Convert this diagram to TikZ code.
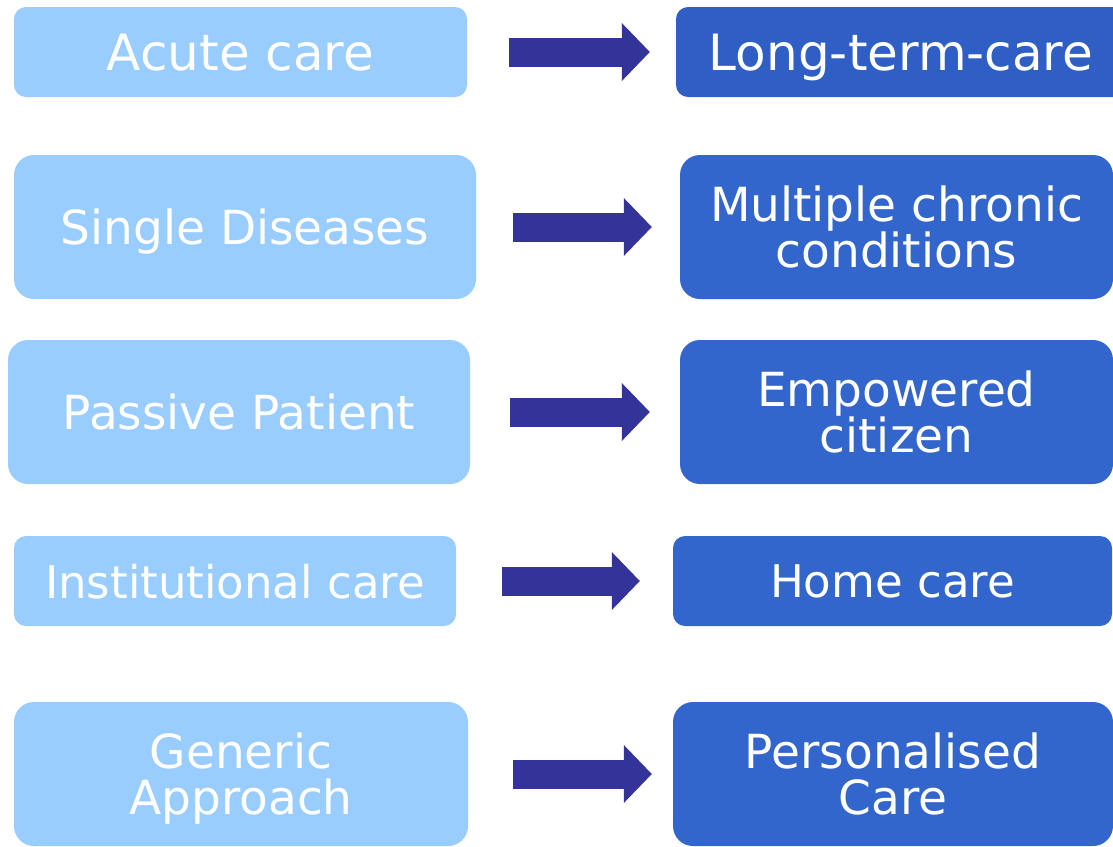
\documentclass[tikz,border=0pt]{standalone}
\usepackage{fontspec}
\setmainfont{DejaVu Sans}
\usetikzlibrary{arrows.meta}

\definecolor{paleblue}{HTML}{99CCFF}
\definecolor{deepblue}{HTML}{3366CC}
\definecolor{darkdeepblue}{HTML}{2F5FC4}
\definecolor{shiftblue}{HTML}{333399}

\begin{document}
\begin{tikzpicture}[x=1pt, y=-1pt,
		oldbox/.style = {fill=paleblue, text=white, align=center, inner sep=0pt,
			rounded corners=12pt, text depth=0pt, font=\fontsize{47}{46}\selectfont},
		newbox/.style = {oldbox, fill=deepblue},
		tallbox/.style = {rounded corners=20pt, minimum height=144pt},
		flatbox/.style = {minimum height=90pt},
		shiftarrow/.style = {shiftblue, line width=29pt,
			-{Triangle[length=28pt, width=58pt, line width=0pt]}}]
		
		\fill[white] (0,0) rectangle (1113,846);
		\clip (0,0) rectangle (1113,846);
		
		% from (left) ...
		\node[oldbox, flatbox, minimum width=453pt, font=\fontsize{50}{50}\selectfont] (acute) at (240.5,52) {Acute care};
		\node[oldbox, tallbox, minimum width=462pt] (single) at (245,227) {Single Diseases};
		\node[oldbox, tallbox, minimum width=462pt] (passive) at (239,412) {Passive Patient};
		\node[oldbox, flatbox, minimum width=442pt, font=\fontsize{45}{45}\selectfont] (institutional) at (235,581) {Institutional care};
		\node[oldbox, tallbox, minimum width=454pt] (generic) at (241,774) {Generic\\Approach};
		
		% ... to (right)
		\node[newbox, flatbox, fill=darkdeepblue, minimum width=450pt, font=\fontsize{50}{50}\selectfont] (longterm) at (901,52) {Long-term-care};
		\node[newbox, tallbox, minimum width=433pt] (multiple) at (896.5,227) {Multiple chronic\\conditions};
		\node[newbox, tallbox, minimum width=433pt] (empowered) at (896.5,412) {Empowered\\citizen};
		\node[newbox, flatbox, minimum width=439pt, font=\fontsize{45}{45}\selectfont] (home) at (892.5,581) {Home care};
		\node[newbox, tallbox, minimum width=440pt] (personalised) at (893,774) {Personalised\\Care};
		
		\draw[shiftarrow, shorten <=42pt, shorten >=26pt] (acute) -- (longterm);
		\draw[shiftarrow, shorten <=37pt, shorten >=28pt] (single) -- (multiple);
		\draw[shiftarrow, shorten <=40pt, shorten >=30pt] (passive) -- (empowered);
		\draw[shiftarrow, shorten <=46pt, shorten >=33pt] (institutional) -- (home);
		\draw[shiftarrow, shorten <=45pt, shorten >=21pt] (generic) -- (personalised);
	\end{tikzpicture}
\end{document}
